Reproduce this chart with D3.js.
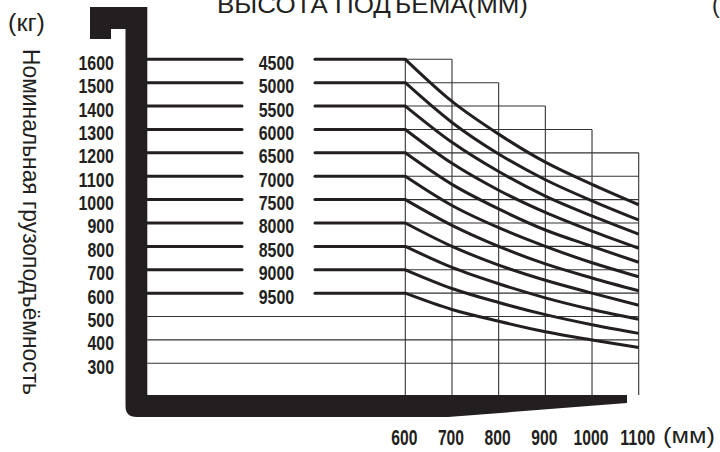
<!DOCTYPE html>
<html><head><meta charset="utf-8">
<script src="https://cdn.jsdelivr.net/npm/d3@7"></script>
<style>html,body{margin:0;padding:0;background:#fff;overflow:hidden}</style>
</head><body><svg id="c" width="720" height="452"></svg>
<script>
// ---- data ----
const yTicks = [1600,1500,1400,1300,1200,1100,1000,900,800,700,600,500,400,300];
const xTicks = [600,700,800,900,1000,1100];
const capacities = [1600,1500,1400,1300,1200,1100,1000,900,800,700,600];
const liftHeights = ["4500","5000","5500","6000","6500","7000","7500","8000","8500","9000","9500"];
const gridTopKg = [1600,1600,1500,1400,1300,1200]; // top of vertical grid line at each load centre
const curveValues = [
  [1600,1420,1280,1160,1065,978],
  [1500,1330,1195,1085,995,913],
  [1400,1245,1120,1015,930,852],
  [1300,1155,1040,945,865,792],
  [1200,1065,960,870,800,732],
  [1100,975,880,800,730,670],
  [1000,890,800,725,665,610],
  [900,800,720,655,600,548],
  [800,710,640,580,530,488],
  [700,620,560,508,465,428],
  [600,530,480,435,400,368]
];
const titleText = "ВЫСОТА ПОДЪЕМА(ММ)";
const yUnit = "(кг)";
const xUnit = "(мм)";
const yTitle = "Номинальная грузоподъёмность";

// ---- layout ----
const ink = "#231f20";
const svg = d3.select("#c");
const x = d3.scaleLinear().domain([600,1100]).range([405.3,638.7]);
const y = d3.scaleLinear().domain([300,1600]).range([363.3,59.3]);
const plotLeft = 147.3, plotBottom = 395;
const numFont = "'Liberation Sans Narrow','Liberation Sans',Arial,sans-serif";

// grid: vertical lines
svg.append("g").selectAll("line").data(xTicks).join("line")
  .attr("x1", d=>x(d)).attr("x2", d=>x(d))
  .attr("y1", (d,i)=>y(gridTopKg[i])).attr("y2", plotBottom)
  .attr("stroke", "#333").attr("stroke-width", 1.1);

// grid: horizontal lines
function rowEnd(v){ let e = xTicks[0]; xTicks.forEach((c,i)=>{ if (gridTopKg[i] >= v) e = c; }); return e; }
svg.append("g").selectAll("line").data(yTicks).join("line")
  .attr("x1", d=> capacities.includes(d) ? x(600) : plotLeft)
  .attr("x2", d=>x(rowEnd(d)))
  .attr("y1", d=>y(d)).attr("y2", d=>y(d))
  .attr("stroke", "#333").attr("stroke-width", 1.1);

// thick capacity lines with lift height labels
const rows = svg.append("g");
rows.selectAll("line.a").data(capacities).join("line").attr("class","a")
  .attr("x1", plotLeft).attr("x2", 242).attr("y1", d=>y(d)).attr("y2", d=>y(d))
  .attr("stroke", ink).attr("stroke-width", 3).attr("stroke-linecap","round");
rows.selectAll("line.b").data(capacities).join("line").attr("class","b")
  .attr("x1", 315).attr("x2", x(600)).attr("y1", d=>y(d)).attr("y2", d=>y(d))
  .attr("stroke", ink).attr("stroke-width", 3).attr("stroke-linecap","round");
rows.selectAll("text").data(capacities).join("text")
  .attr("x", 276.5).attr("y", d=>y(d)+10.5)
  .attr("text-anchor","middle")
  .attr("font-family", numFont).attr("font-weight","bold").attr("font-size", 20.5)
  .attr("fill", ink)
  .attr("textLength", 35.5).attr("lengthAdjust","spacingAndGlyphs")
  .text((d,i)=>liftHeights[i]);

// curves
const line = d3.line().x((d,i)=>x(xTicks[i])).y(d=>y(d)).curve(d3.curveMonotoneX);
svg.append("g").selectAll("path").data(curveValues).join("path")
  .attr("d", line).attr("fill","none").attr("stroke", ink).attr("stroke-width", 3);

// fork / carriage shape
const forkRight = 627, taperX = 448, outerL = 125.5, bottomY = 417, r = 11;
svg.append("path")
  .attr("d", `M90,7 H${plotLeft} V${plotBottom} H${forkRight} V403 L${taperX},${bottomY} H${outerL+r} Q${outerL},${bottomY} ${outerL},${bottomY-r} V29 H111 V39 H90 Z`)
  .attr("fill", ink);

// y tick labels
svg.append("g").selectAll("text").data(yTicks).join("text")
  .attr("x", 114).attr("y", d=>y(d)+10.5)
  .attr("text-anchor","end")
  .attr("font-family", numFont).attr("font-weight","bold").attr("font-size", 20.5)
  .attr("fill", ink)
  .attr("textLength", d=>String(d).length*9 - 0.5).attr("lengthAdjust","spacingAndGlyphs")
  .text(d=>d);

// x tick labels
svg.append("g").selectAll("text").data(xTicks).join("text")
  .attr("x", d=>x(d)-1).attr("y", 445)
  .attr("text-anchor","middle")
  .attr("font-family", numFont).attr("font-weight","bold").attr("font-size", 21.5)
  .attr("fill", ink)
  .attr("textLength", d=>String(d).length*8.7).attr("lengthAdjust","spacingAndGlyphs")
  .text(d=>d);

// units and titles
svg.append("text").attr("x", 663).attr("y", 443)
  .attr("font-family","'Liberation Sans',Arial,sans-serif").attr("font-size", 22.5)
  .attr("fill", ink).attr("textLength", 52).attr("lengthAdjust","spacingAndGlyphs").text(xUnit);
svg.append("text").attr("x", 8).attr("y", 30.5)
  .attr("font-family","'Liberation Sans',Arial,sans-serif").attr("font-size", 23.5)
  .attr("fill", ink).attr("textLength", 37).attr("lengthAdjust","spacingAndGlyphs").text(yUnit);
svg.append("text").attr("x", 217).attr("y", 13.3)
  .attr("font-family","'Liberation Sans',Arial,sans-serif").attr("font-size", 23)
  .attr("fill", ink).attr("textLength", 311).attr("lengthAdjust","spacingAndGlyphs").text(titleText);
svg.append("text").attr("x", 712).attr("y", 13.3)
  .attr("font-family","'Liberation Sans',Arial,sans-serif").attr("font-size", 23)
  .attr("fill", ink).text(xUnit);
svg.append("text")
  .attr("transform","translate(22.5,49) rotate(90)")
  .attr("font-family","'Liberation Sans',Arial,sans-serif").attr("font-size", 23.5)
  .attr("fill", ink).attr("textLength", 346).attr("lengthAdjust","spacingAndGlyphs").text(yTitle);
</script></body></html>
